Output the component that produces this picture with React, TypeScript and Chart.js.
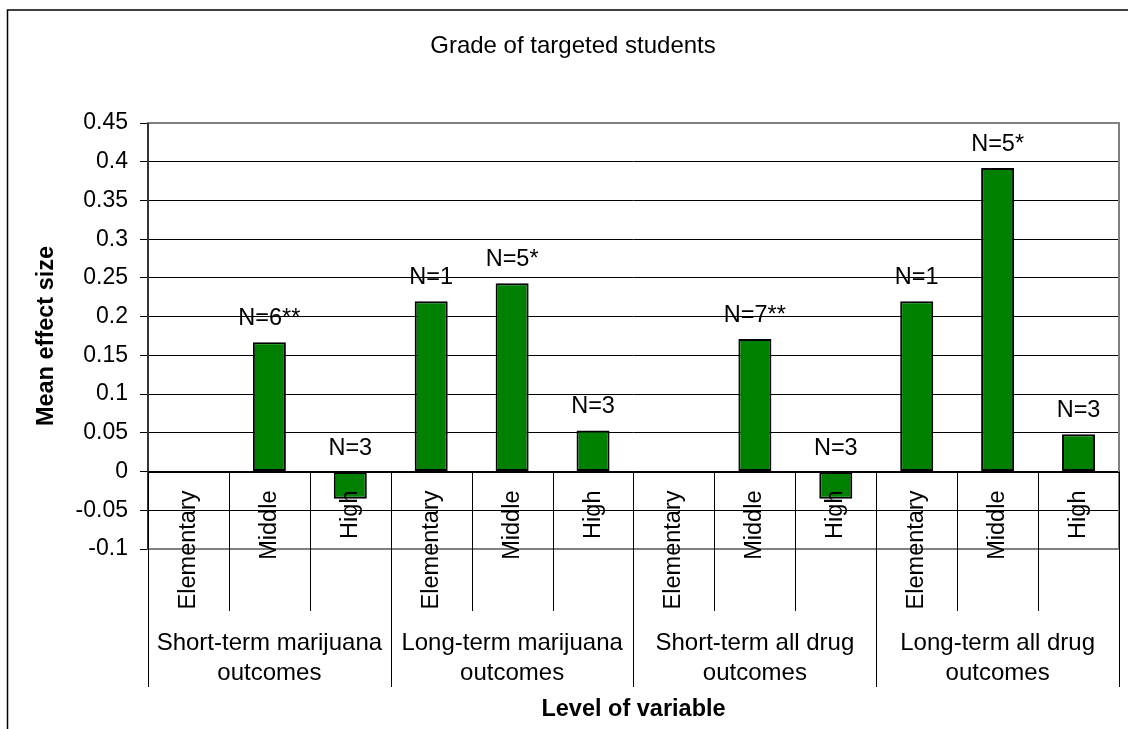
import { useEffect, useRef } from "react";
import { Chart, registerables } from "chart.js";

Chart.register(...registerables);

const chartTitle = "Grade of targeted students";
const yAxisTitle = "Mean effect size";
const xAxisTitle = "Level of variable";

const groupLabels: string[][] = [
  ["Short-term marijuana", "outcomes"],
  ["Long-term marijuana", "outcomes"],
  ["Short-term all drug", "outcomes"],
  ["Long-term all drug", "outcomes"],
];
const levelLabels = ["Elementary", "Middle", "High"];

const effectSizes: (number | null)[] = [
  null, 0.167, -0.035,
  0.22, 0.243, 0.053,
  null, 0.171, -0.035,
  0.22, 0.392, 0.048,
];
const sampleLabels = [
  "", "N=6**", "N=3",
  "N=1", "N=5*", "N=3",
  "", "N=7**", "N=3",
  "N=1", "N=5*", "N=3",
];
const yTickValues = [-0.1, -0.05, 0, 0.05, 0.1, 0.15, 0.2, 0.25, 0.3, 0.35, 0.4, 0.45];

const categoryLabels = groupLabels.flatMap((g) => levelLabels.map((l) => l));

const FONT = "'Liberation Sans', Arial, Helvetica, sans-serif";

const decorPlugin = {
  id: "decor",
  afterDatasetsDraw(chart: any) {
    const { ctx, chartArea: a, scales } = chart;
    const x = scales.x;
    const y = scales.y;
    const zeroY = y.getPixelForValue(0);
    const n = categoryLabels.length;
    const half = (x.getPixelForValue(1) - x.getPixelForValue(0)) / 2;
    ctx.save();

    // plot area border
    ctx.strokeStyle = "#808080";
    ctx.lineWidth = 2;
    ctx.strokeRect(a.left, a.top, a.right - a.left, a.bottom - a.top);

    // category axis line at zero
    ctx.strokeStyle = "#000";
    ctx.lineWidth = 1;
    ctx.beginPath();
    ctx.moveTo(a.left, Math.round(zeroY) + 0.5);
    ctx.lineTo(a.right, Math.round(zeroY) + 0.5);
    ctx.stroke();

    // value axis line
    ctx.strokeStyle = "#333";
    ctx.lineWidth = 2;
    ctx.beginPath();
    ctx.moveTo(a.left, a.top);
    ctx.lineTo(a.left, a.bottom);
    ctx.stroke();

    // category dividers
    ctx.strokeStyle = "#000";
    ctx.lineWidth = 1;
    for (let i = 0; i <= n; i++) {
      const bx = i < n ? x.getPixelForValue(i) - half : x.getPixelForValue(n - 1) + half;
      const isGroup = i % levelLabels.length === 0;
      const y2 = isGroup ? 687 : 611;
      const px = Math.round(bx) + 0.5;
      ctx.beginPath();
      ctx.moveTo(px, zeroY);
      ctx.lineTo(px, y2);
      ctx.stroke();
    }

    ctx.fillStyle = "#000";

    // bar labels
    ctx.font = `23.5px ${FONT}`;
    ctx.textAlign = "center";
    ctx.textBaseline = "alphabetic";
    const meta = chart.getDatasetMeta(0);
    meta.data.forEach((bar: any, i: number) => {
      const v = effectSizes[i];
      if (v == null || !sampleLabels[i]) return;
      ctx.fillText(sampleLabels[i], bar.x, y.getPixelForValue(Math.max(v, 0)) - 17);
    });

    // rotated level labels
    categoryLabels.forEach((lab, i) => {
      ctx.save();
      ctx.translate(x.getPixelForValue(i), zeroY + 19);
      ctx.rotate(-Math.PI / 2);
      ctx.textAlign = "right";
      ctx.textBaseline = "middle";
      ctx.fillText(lab, 0, 0);
      ctx.restore();
    });

    // group labels
    ctx.font = `24px ${FONT}`;
    ctx.textAlign = "center";
    ctx.textBaseline = "alphabetic";
    groupLabels.forEach((lines, g) => {
      const k = levelLabels.length;
      const cx = (x.getPixelForValue(g * k) + x.getPixelForValue(g * k + k - 1)) / 2;
      lines.forEach((t, j) => ctx.fillText(t, cx, 650 + 30 * j));
    });

    // x axis title
    ctx.font = `bold 23.5px ${FONT}`;
    ctx.fillText(xAxisTitle, (a.left + a.right) / 2, 716);

    // y axis title
    ctx.save();
    ctx.translate(46.5, (a.top + a.bottom) / 2);
    ctx.rotate(-Math.PI / 2);
    ctx.textAlign = "center";
    ctx.textBaseline = "middle";
    ctx.fillText(yAxisTitle, 0, 0);
    ctx.restore();

    // chart title
    ctx.font = `24px ${FONT}`;
    ctx.textAlign = "center";
    ctx.textBaseline = "alphabetic";
    ctx.fillText(chartTitle, 573, 52.5);

    // outer chart border
    ctx.strokeStyle = "#000";
    ctx.lineWidth = 1.5;
    ctx.beginPath();
    ctx.moveTo(7.5, 729);
    ctx.lineTo(7.5, 10);
    ctx.lineTo(1128, 10);
    ctx.stroke();

    ctx.restore();
  },
};

export default function App() {
  const ref = useRef<HTMLCanvasElement>(null);

  useEffect(() => {
    if (!ref.current) return;
    const chart = new Chart(ref.current, {
      type: "bar",
      data: {
        labels: categoryLabels,
        datasets: [
          {
            data: effectSizes as any,
            backgroundColor: "#008000",
            borderColor: "#000",
            borderWidth: 2,
            borderSkipped: false,
            categoryPercentage: 1,
            barPercentage: 0.408,
          },
        ],
      },
      options: {
        responsive: false,
        animation: false,
        devicePixelRatio: 1,
        layout: { padding: { left: 0, top: 123, right: 9, bottom: 180 } },
        plugins: {
          legend: { display: false },
          tooltip: { enabled: false },
          title: { display: false },
        },
        scales: {
          x: {
            type: "category",
            display: false,
            offset: true,
          },
          y: {
            type: "linear",
            min: -0.1,
            max: 0.45,
            afterBuildTicks: (scale: any) => {
              scale.ticks = yTickValues.map((v) => ({ value: v }));
            },
            afterFit: (scale: any) => {
              scale.width = 148;
            },
            ticks: {
              color: "#000",
              font: { family: FONT, size: 23 },
              padding: 12,
              callback: (v: any) => String(Math.round(Number(v) * 100) / 100),
            },
            grid: {
              color: "#000",
              lineWidth: 1,
              tickLength: 8,
              drawTicks: true,
            },
            border: { display: false },
          },
        },
      },
      plugins: [decorPlugin],
    });
    return () => chart.destroy();
  }, []);

  return (
    <div
      style={{
        position: "fixed",
        left: 0,
        top: 0,
        width: 1128,
        height: 729,
        background: "#fff",
      }}
    >
      <canvas
        ref={ref}
        width={1128}
        height={729}
        style={{ display: "block", width: 1128, height: 729 }}
      />
    </div>
  );
}
